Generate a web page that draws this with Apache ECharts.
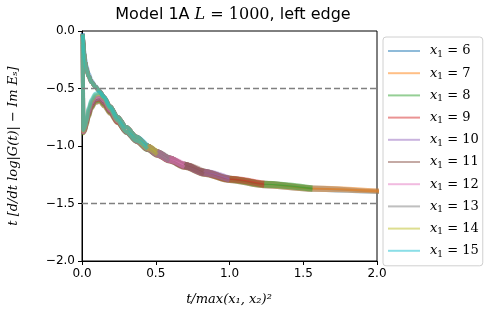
<!DOCTYPE html>
<html>
<head>
<meta charset="utf-8">
<script src="https://cdn.jsdelivr.net/npm/echarts@6/dist/echarts.min.js"></script>
<style>
html,body{margin:0;padding:0;background:#fff;}
#chart{width:498px;height:318px;}
</style>
</head>
<body>
<div id="chart"></div>
<script>
// scaled time grid t/max(x1,x2)^2
const tGrid = [0.005, 0.009, 0.014, 0.02, 0.03, 0.045, 0.065, 0.09, 0.12, 0.15, 0.19, 0.24, 0.30, 0.37, 0.444, 0.51, 0.592, 0.694, 0.826, 1.0, 1.235, 1.5625, 2.04, 2.78];
const x1Values = [6, 7, 8, 9, 10, 11, 12, 13, 14, 15];
const colors = ['rgba(31,119,180,0.5)', 'rgba(255,127,14,0.5)', 'rgba(44,160,44,0.5)', 'rgba(214,39,40,0.5)', 'rgba(148,103,189,0.5)', 'rgba(140,86,75,0.5)', 'rgba(227,119,194,0.5)', 'rgba(127,127,127,0.5)', 'rgba(188,189,34,0.5)', 'rgba(23,190,207,0.5)'];
const hLines = [-0.5, -1.5];

const up6  = [-0.02,-0.08,-0.16,-0.23,-0.30,-0.37,-0.43,-0.475,-0.52,-0.575,-0.655,-0.745,-0.835,-0.92,-0.995,-1.045,-1.10,-1.155,-1.215,-1.275,-1.32,-1.36,-1.39,-1.42];
const lo6  = [-0.02,-0.88,-0.88,-0.87,-0.825,-0.75,-0.675,-0.625,-0.615,-0.655,-0.72,-0.80,-0.885,-0.965,-1.035,-1.085,-1.135,-1.19,-1.25,-1.305,-1.35,-1.38,-1.40,-1.43];
const up7  = [-0.03,-0.10,-0.19,-0.26,-0.33,-0.395,-0.445,-0.485,-0.525,-0.575,-0.655,-0.745,-0.835,-0.92,-0.995,-1.045,-1.10,-1.155,-1.215,-1.275,-1.32,-1.36,-1.39];
const lo7  = [-0.03,-0.89,-0.88,-0.87,-0.825,-0.75,-0.675,-0.625,-0.615,-0.655,-0.72,-0.80,-0.885,-0.965,-1.035,-1.085,-1.135,-1.19,-1.25,-1.305,-1.35,-1.38,-1.40];
const up8  = [-0.03,-0.10,-0.19,-0.26,-0.33,-0.395,-0.445,-0.485,-0.525,-0.575,-0.655,-0.745,-0.835,-0.92,-0.995,-1.045,-1.10,-1.155,-1.215,-1.275,-1.32,-1.36];
const lo8  = [-0.03,-0.89,-0.875,-0.86,-0.81,-0.74,-0.665,-0.615,-0.605,-0.645,-0.71,-0.795,-0.885,-0.965,-1.035,-1.08,-1.13,-1.185,-1.245,-1.30,-1.345,-1.38];
const up9  = [-0.03,-0.10,-0.19,-0.26,-0.33,-0.395,-0.445,-0.485,-0.525,-0.575,-0.655,-0.745,-0.835,-0.92,-0.995,-1.045,-1.10,-1.155,-1.215,-1.275,-1.32];
const lo9  = [-0.03,-0.88,-0.87,-0.855,-0.805,-0.73,-0.655,-0.605,-0.595,-0.635,-0.705,-0.795,-0.88,-0.96,-1.03,-1.08,-1.13,-1.185,-1.245,-1.30,-1.345];
const up10 = [-0.03,-0.10,-0.19,-0.26,-0.33,-0.395,-0.445,-0.485,-0.525,-0.575,-0.655,-0.745,-0.835,-0.92,-0.995,-1.045,-1.10,-1.155,-1.215,-1.275];
const lo10 = [-0.03,-0.88,-0.87,-0.85,-0.80,-0.72,-0.645,-0.595,-0.585,-0.625,-0.70,-0.79,-0.88,-0.96,-1.03,-1.08,-1.13,-1.185,-1.245,-1.30];
const up11 = [-0.03,-0.10,-0.19,-0.26,-0.33,-0.395,-0.445,-0.485,-0.525,-0.575,-0.655,-0.745,-0.835,-0.92,-0.995,-1.045,-1.10,-1.155,-1.215];
const lo11 = [-0.03,-0.88,-0.87,-0.85,-0.795,-0.71,-0.635,-0.585,-0.575,-0.615,-0.695,-0.785,-0.88,-0.96,-1.03,-1.08,-1.13,-1.185,-1.245];
const up12 = [-0.03,-0.10,-0.19,-0.26,-0.33,-0.395,-0.445,-0.485,-0.525,-0.575,-0.655,-0.745,-0.835,-0.92,-0.995,-1.045,-1.10,-1.155];
const lo12 = [-0.03,-0.88,-0.87,-0.85,-0.79,-0.70,-0.625,-0.575,-0.565,-0.605,-0.69,-0.785,-0.88,-0.96,-1.03,-1.08,-1.13,-1.185];
const up13 = [-0.03,-0.10,-0.19,-0.26,-0.33,-0.395,-0.445,-0.485,-0.525,-0.575,-0.655,-0.745,-0.835,-0.92,-0.995,-1.045,-1.10];
const lo13 = [-0.03,-0.87,-0.86,-0.84,-0.785,-0.69,-0.615,-0.565,-0.555,-0.595,-0.68,-0.78,-0.88,-0.96,-1.03,-1.08,-1.13];
const up14 = [-0.03,-0.10,-0.19,-0.26,-0.33,-0.395,-0.445,-0.485,-0.525,-0.575,-0.655,-0.745,-0.835,-0.92,-0.995,-1.045];
const lo14 = [-0.03,-0.87,-0.86,-0.84,-0.78,-0.68,-0.605,-0.555,-0.545,-0.585,-0.675,-0.78,-0.875,-0.955,-1.025,-1.075];
const up15 = [-0.03,-0.10,-0.19,-0.26,-0.33,-0.395,-0.445,-0.485,-0.525,-0.575,-0.655,-0.745,-0.835,-0.92,-0.995];
const lo15 = [-0.03,-0.86,-0.85,-0.83,-0.775,-0.67,-0.595,-0.545,-0.535,-0.575,-0.67,-0.775,-0.875,-0.955,-1.025];

const upper = [up6, up7, up8, up9, up10, up11, up12, up13, up14, up15];
const lower = [lo6, lo7, lo8, lo9, lo10, lo11, lo12, lo13, lo14, lo15];

const serif = 'DejaVu Serif';
const sans = 'DejaVu Sans';

function pairs(vals) { return vals.map((v, i) => [tGrid[i], v]); }

const series = [];
x1Values.forEach((x1, k) => {
  const name = 'x' + x1;
  [upper[k], lower[k]].forEach(vals => {
    series.push({
      name: name,
      type: 'line',
      data: pairs(vals),
      showSymbol: false,
      symbol: 'none',
      smooth: 0.3,
      smoothMonotone: 'x',
      color: colors[k],
      lineStyle: { color: colors[k], width: 4, join: 'round', cap: 'butt' },
      silent: true,
      z: 2
    });
  });
});
hLines.forEach(y => {
  series.push({
    type: 'line',
    data: [[0, y], [2, y]],
    showSymbol: false,
    symbol: 'none',
    lineStyle: { color: '#808080', width: 1.5, type: [6, 3] },
    silent: true,
    z: 3
  });
});

const fmt = v => (Math.abs(v) < 1e-9 ? '0.0' : v.toFixed(1).replace('-', '\u2212'));

const chart = echarts.init(document.getElementById('chart'), null, { renderer: 'canvas' });
chart.setOption({
  animation: false,
  backgroundColor: '#fff',
  title: {
    left: 228, top: 2, textAlign: 'center',
    text: '{a|Model 1A }{m|L}{b| = 1000}{a|, left edge}',
    textStyle: {
      fontWeight: 'normal',
      rich: {
        a: { fontFamily: sans, fontSize: 16, fontWeight: 'normal', color: '#000' },
        m: { fontFamily: serif, fontStyle: 'italic', fontWeight: 'normal', fontSize: 16, color: '#000' },
        b: { fontFamily: serif, fontSize: 16, fontWeight: 'normal', color: '#000' }
      }
    }
  },
  grid: { left: 82, right: 121, top: 31, bottom: 57, show: true, borderColor: '#000', borderWidth: 1, backgroundColor: 'transparent' },
  legend: {
    orient: 'vertical', left: 383, top: 37,
    data: x1Values.map(x => 'x' + x),
    icon: 'rect',
    itemWidth: 32, itemHeight: 2, itemGap: 6.2,
    padding: [6, 4, 7, 5],
    borderColor: '#d0d0d0', borderWidth: 1, borderRadius: 3,
    backgroundColor: '#fff',
    formatter: n => '{i|x}{s|1}{t| = ' + n.slice(1) + '}',
    textStyle: {
      padding: [0, 0, 0, 5],
      lineHeight: 16,
      rich: {
        i: { fontFamily: serif, fontStyle: 'italic', fontSize: 13, lineHeight: 16, color: '#000' },
        s: { fontFamily: serif, fontSize: 9, lineHeight: 16, verticalAlign: 'bottom', color: '#000' },
        t: { fontFamily: serif, fontSize: 13, lineHeight: 16, color: '#000' }
      }
    }
  },
  xAxis: {
    type: 'value', min: 0, max: 2, interval: 0.5,
    axisLine: { show: true, onZero: false, lineStyle: { color: '#000', width: 1 } },
    axisTick: { show: true, length: 4, lineStyle: { color: '#000' } },
    axisLabel: { color: '#000', fontFamily: sans, fontSize: 12, margin: 7, formatter: fmt },
    splitLine: { show: false }
  },
  yAxis: {
    type: 'value', min: -2, max: 0, interval: 0.5,
    axisLine: { show: true, onZero: false, lineStyle: { color: '#000', width: 1 } },
    axisTick: { show: true, length: 4, lineStyle: { color: '#000' } },
    axisLabel: { color: '#000', fontFamily: sans, fontSize: 12, margin: 7, formatter: fmt },
    splitLine: { show: false }
  },
  graphic: [
    {
      type: 'text', x: 14, y: 146, rotation: Math.PI / 2,
      style: {
        text: 't [d/dt log|G(t)| \u2212 Im E\u209b]',
        font: 'italic 13px "DejaVu Serif"', fill: '#000',
        textAlign: 'center', textVerticalAlign: 'middle'
      }
    },
    {
      type: 'text', x: 229, y: 300,
      style: {
        text: 't/max(x\u2081, x\u2082)\u00b2',
        font: 'italic 13px "DejaVu Serif"', fill: '#000',
        textAlign: 'center', textVerticalAlign: 'middle'
      }
    }
  ],
  series: series
});
</script>
</body>
</html>
